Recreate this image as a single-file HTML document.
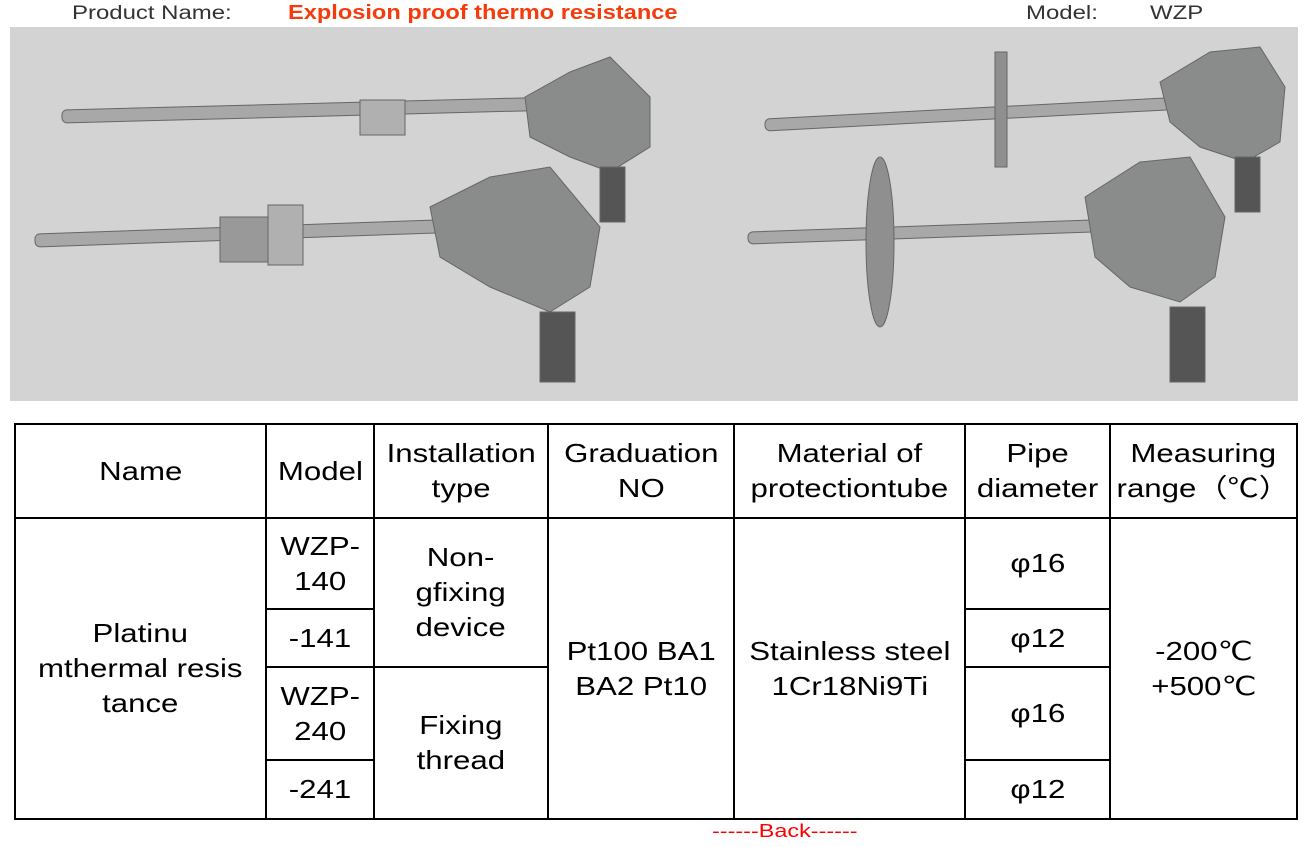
<!DOCTYPE html>
<html><head><meta charset="utf-8"><style>
body{margin:0;width:1315px;height:847px;background:#fff;position:relative;font-family:"Liberation Sans",Arial,sans-serif;overflow:hidden}
.t{position:absolute;white-space:nowrap;transform-origin:0 0}
table{position:absolute;left:14px;top:423px;border-collapse:collapse;width:1284px;height:396px}
td{border:2px solid #000;text-align:center;vertical-align:middle;font-size:26px;line-height:35px;padding:0;color:#000;white-space:nowrap}
td span{display:inline-block;transform:scaleX(1.2)}
</style></head><body>
<div class="t" style="left:72px;top:3px;font-size:19px;color:#333;transform:scaleX(1.26)">Product Name:</div>
<div class="t" style="left:288px;top:2px;font-size:20px;color:#f53b0b;font-weight:bold;transform:scaleX(1.18)">Explosion proof thermo resistance</div>
<div class="t" style="left:1026px;top:3px;font-size:19px;color:#333;transform:scaleX(1.26)">Model:</div>
<div class="t" style="left:1150px;top:3px;font-size:19px;color:#333;transform:scaleX(1.26)">WZP</div>
<svg style="position:absolute;left:10px;top:27px" width="1288" height="374">
<rect width="1288" height="374" fill="#d3d3d3"/>
<g fill="#9a9a9a" stroke="#666" stroke-width="1">
<rect x="52" y="83" width="470" height="13" rx="5" transform="rotate(-1.5 52 90)" fill="#a8a8a8"/>
<rect x="350" y="73" width="45" height="35" fill="#b0b0b0"/>
<path d="M515 70 L560 45 L600 30 L640 70 L640 120 L600 145 L560 130 L520 110Z" fill="#8a8c8c"/>
<rect x="590" y="140" width="25" height="55" fill="#555"/>
<rect x="25" y="207" width="410" height="13" rx="5" transform="rotate(-2 25 213)" fill="#a8a8a8"/>
<rect x="210" y="190" width="50" height="45" fill="#999"/>
<rect x="258" y="178" width="35" height="60" fill="#b0b0b0"/>
<path d="M420 180 L480 150 L540 140 L590 200 L580 260 L540 285 L480 260 L430 230Z" fill="#8a8c8c"/>
<rect x="530" y="285" width="35" height="70" fill="#555"/>
<rect x="755" y="92" width="490" height="12" rx="5" transform="rotate(-3 755 98)" fill="#a8a8a8"/>
<rect x="985" y="25" width="12" height="115" fill="#8f8f8f"/>
<path d="M1150 55 L1200 25 L1250 20 L1275 60 L1270 115 L1235 135 L1190 120 L1160 95Z" fill="#8a8c8c"/>
<rect x="1225" y="130" width="25" height="55" fill="#555"/>
<rect x="738" y="205" width="360" height="12" rx="5" transform="rotate(-2 738 211)" fill="#a8a8a8"/>
<ellipse cx="870" cy="215" rx="14" ry="85" fill="#8f8f8f"/>
<path d="M1075 170 L1130 135 L1180 130 L1215 190 L1205 250 L1170 275 L1120 260 L1085 230Z" fill="#8a8c8c"/>
<rect x="1160" y="280" width="35" height="75" fill="#555"/>
</g>
</svg>
<table>
<tr style="height:94px"><td style="width:249px"><span>Name</span></td><td style="width:106px"><span>Model</span></td><td style="width:172px"><span>Installation<br>type</span></td><td style="width:184px"><span>Graduation<br>NO</span></td><td style="width:229px"><span>Material of<br>protectiontube</span></td><td style="width:143px"><span>Pipe<br>diameter</span></td><td><span>Measuring<br>range（℃）</span></td></tr>
<tr style="height:91px"><td rowspan="4"><span>Platinu<br>mthermal resis<br>tance</span></td><td><span>WZP-<br>140</span></td><td rowspan="2"><span>Non-<br>gfixing<br>device</span></td><td rowspan="4"><span>Pt100 BA1<br>BA2 Pt10</span></td><td rowspan="4"><span>Stainless steel<br>1Cr18Ni9Ti</span></td><td><span>φ16</span></td><td rowspan="4"><span>-200℃<br>+500℃</span></td></tr>
<tr style="height:58px"><td><span>-141</span></td><td><span>φ12</span></td></tr>
<tr style="height:93px"><td><span>WZP-<br>240</span></td><td rowspan="2"><span>Fixing<br>thread</span></td><td><span>φ16</span></td></tr>
<tr style="height:59px"><td><span>-241</span></td><td><span>φ12</span></td></tr>
</table>
<div class="t" style="left:712px;top:821px;font-size:18px;color:#f00;transform:scaleX(1.3)">------Back------</div>
</body></html>
